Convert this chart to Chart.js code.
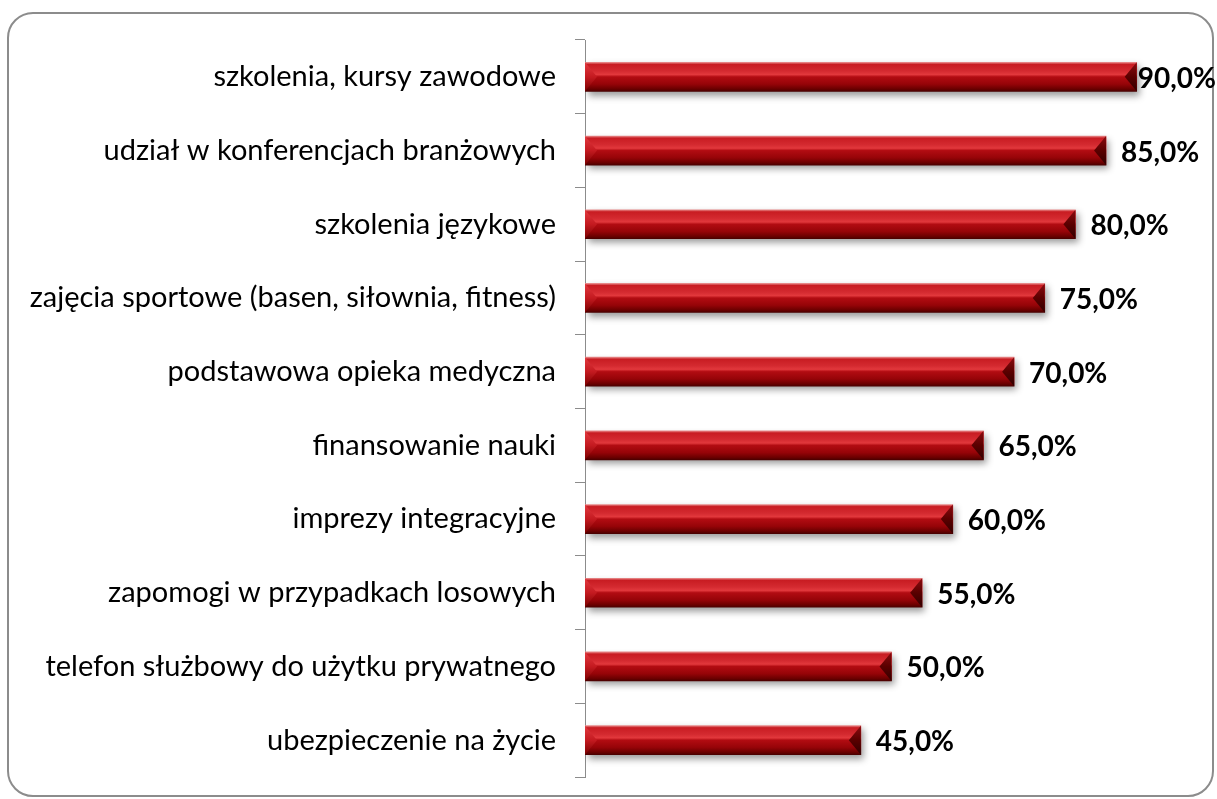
<!DOCTYPE html>
<html>
<head>
<meta charset="utf-8">
<script src="https://cdn.jsdelivr.net/npm/chart.js@4.4.1/dist/chart.umd.min.js"></script>
<style>
  html, body { margin: 0; padding: 0; background: #fff; }
  #wrap { position: relative; width: 1217px; height: 799px; overflow: hidden; }
  #frame { position: absolute; left: 7px; top: 12px; width: 1207px; height: 785px;
           border: 2px solid #8c8c8c; border-radius: 26px; box-sizing: border-box; }
  #chart0 { position: absolute; left: 0; top: 0; }
</style>
</head>
<body>
<div id="wrap">
  <div id="frame"></div>
  <canvas id="chart0" width="1217" height="799"></canvas>
</div>
<script>
const categories = [
  "szkolenia, kursy zawodowe",
  "udział w konferencjach branżowych",
  "szkolenia językowe",
  "zajęcia sportowe (basen, siłownia, fitness)",
  "podstawowa opieka medyczna",
  "finansowanie nauki",
  "imprezy integracyjne",
  "zapomogi w przypadkach losowych",
  "telefon służbowy do użytku prywatnego",
  "ubezpieczenie na życie"
];
const values = [90, 85, 80, 75, 70, 65, 60, 55, 50, 45];

const BAR_H = 29;

// vertical gradient for each bar, so it looks like a rounded red tube
function barFill(c) {
  const chart = c.chart;
  const y = chart.scales.y;
  if (!y) return "#b01010";
  const mid = y.getPixelForValue(c.dataIndex);
  if (!isFinite(mid)) return "#b01010";
  const g = chart.ctx.createLinearGradient(0, mid - BAR_H / 2, 0, mid + BAR_H / 2);
  g.addColorStop(0, "#e88a8a");
  g.addColorStop(0.07, "#c81c22");
  g.addColorStop(0.3, "#d42a30");
  g.addColorStop(0.42, "#e2383c");
  g.addColorStop(0.5, "#b20c12");
  g.addColorStop(0.75, "#960408");
  g.addColorStop(0.92, "#6a0000");
  g.addColorStop(1, "#4a0000");
  return g;
}

const tubePlugin = {
  id: "tube",
  beforeDatasetsDraw(chart) {
    const ctx = chart.ctx;
    ctx.save();
    ctx.shadowColor = "rgba(0,0,0,0.4)";
    ctx.shadowBlur = 7;
    ctx.shadowOffsetX = 3;
    ctx.shadowOffsetY = 4;
  },
  afterDatasetsDraw(chart) {
    const ctx = chart.ctx;
    ctx.restore();
    const meta = chart.getDatasetMeta(0);
    meta.data.forEach((bar, i) => {
      const top = bar.y - bar.height / 2;
      const bot = bar.y + bar.height / 2;
      const x0 = bar.base, x1 = bar.x;
      const w = 12;
      // right end bevel
      ctx.beginPath();
      ctx.moveTo(x1, top); ctx.lineTo(x1 - w, bar.y); ctx.lineTo(x1, bot); ctx.closePath();
      let g = ctx.createLinearGradient(0, top, 0, bot);
      g.addColorStop(0, "#8a0c10"); g.addColorStop(0.5, "#5a0000"); g.addColorStop(1, "#300000");
      ctx.fillStyle = g; ctx.fill();
      // left end bevel
      ctx.beginPath();
      ctx.moveTo(x0, top); ctx.lineTo(x0 + w, bar.y); ctx.lineTo(x0, bot); ctx.closePath();
      g = ctx.createLinearGradient(0, top, 0, bot);
      g.addColorStop(0, "#e23a40"); g.addColorStop(0.5, "#c41a20"); g.addColorStop(1, "#7a0000");
      ctx.fillStyle = g; ctx.fill();

      // value label
      const txt = values[i].toFixed(1).replace(".", ",") + "%";
      ctx.font = "bold 28px Lato";
      ctx.fillStyle = "#000";
      ctx.textBaseline = "middle";
      ctx.textAlign = "left";
      const tw = ctx.measureText(txt).width;
      let tx = x1 + 15;
      if (tx + tw > chart.width - 1) tx = chart.width - 1 - tw;
      ctx.fillText(txt, tx, bar.y + 2);
    });
  }
};

const ctx = document.getElementById("chart0").getContext("2d");
const myChart = new Chart(ctx, {
  type: "bar",
  data: {
    labels: categories,
    datasets: [{
      data: values,
      backgroundColor: barFill,
      borderWidth: 0,
      barThickness: BAR_H
    }]
  },
  options: {
    indexAxis: "y",
    responsive: false,
    animation: false,
    layout: { padding: { top: 40, bottom: 22, right: 19, left: 0 } },
    plugins: { legend: { display: false }, tooltip: { enabled: false } },
    scales: {
      x: { min: 0, max: 100, display: false },
      y: {
        afterFit(scale) {
          scale.width = 585;
          scale.paddingTop = 0;
          scale.paddingBottom = 0;
        },
        grid: { offset: true, drawOnChartArea: false, tickLength: 10, color: "#8c8c8c", lineWidth: 1 },
        border: { color: "#8c8c8c", width: 1 },
        ticks: { padding: 19, color: "#000", font: { family: "Lato", size: 29 } }
      }
    }
  },
  plugins: [tubePlugin]
});
</script>
</body>
</html>
